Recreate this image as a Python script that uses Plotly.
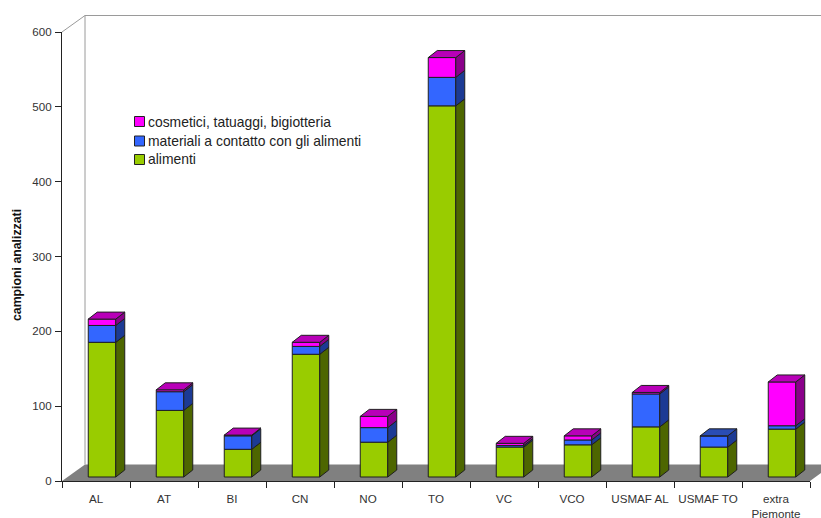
import plotly.graph_objects as go

categories = ["AL", "AT", "BI", "CN", "NO", "TO", "VC", "VCO", "USMAF AL", "USMAF TO", "extra<br>Piemonte"]
alimenti = [180, 89, 37, 164, 46.5, 496, 40, 43, 67, 40, 64]
materiali = [22.5, 25, 18, 10.5, 19.5, 38, 2, 6.5, 44, 15, 4.5]
cosmetici = [8.5, 2.5, 1, 5.5, 15, 26.5, 3, 5.5, 2, 0, 58.5]
y_ticks = [0, 100, 200, 300, 400, 500, 600]

series = [
    ("alimenti", alimenti, "#99cc00", "#4d6600", "#7a9e00"),
    ("materiali a contatto con gli alimenti", materiali, "#3366ff", "#1c3a94", "#2a4db5"),
    ("cosmetici, tatuaggi, bigiotteria", cosmetici, "#ff00ff", "#8a008a", "#b800b8"),
]

# Page and plot-area geometry in pixels
WIDTH, HEIGHT = 821, 518
LEFT, RIGHT, TOP, BOTTOM = 62, 810, 32, 481
X_MAX, Y_MAX = len(categories), 600
px_x = (RIGHT - LEFT) / X_MAX
px_y = (BOTTOM - TOP) / Y_MAX

# Pseudo-3D extrusion, expressed in data units
WALL_DX, WALL_DY = 23 / px_x, 16.5 / px_y
BAR_DX, BAR_DY = 9 / px_x, 7 / px_y
BASE_X, BASE_Y = 6 / px_x, 4 / px_y
BAR_W = 27.5 / px_x
EDGE = "#1f1f1f"


def px(x_pixel, y_pixel):
    return (x_pixel - LEFT) / (RIGHT - LEFT), (BOTTOM - y_pixel) / (BOTTOM - TOP)


fig = go.Figure()
centers = [i + 0.5 + BASE_X for i in range(len(categories))]
left_edges = [c - BAR_W / 2 for c in centers]
right_edges = [c + BAR_W / 2 for c in centers]

# Front faces, stacked on top of the floor offset
stack = [BASE_Y] * len(categories)
tops = []
for name, values, face, side, roof in series:
    fig.add_trace(go.Bar(
        x=centers, y=values, base=list(stack), width=BAR_W, name=name,
        marker=dict(color=face, line=dict(color=EDGE, width=1)),
        showlegend=False, hoverinfo="skip",
    ))
    side_x, side_y = [], []
    for i, v in enumerate(values):
        if v > 0:
            r = right_edges[i]
            side_x += [r, r + BAR_DX, r + BAR_DX, r, r, None]
            side_y += [stack[i], stack[i] + BAR_DY, stack[i] + v + BAR_DY, stack[i] + v, stack[i], None]
    fig.add_trace(go.Scatter(
        x=side_x, y=side_y, mode="lines", fill="toself", fillcolor=side,
        line=dict(color=EDGE, width=1), showlegend=False, hoverinfo="skip", cliponaxis=False,
    ))
    stack = [s + v for s, v in zip(stack, values)]
    tops.append(list(stack))

# Roof of each column takes the colour of its highest non-empty segment
for k, (name, values, face, side, roof) in enumerate(series):
    roof_x, roof_y = [], []
    for i in range(len(categories)):
        highest = max(j for j in range(len(series)) if series[j][1][i] > 0)
        if highest == k:
            l, r, t = left_edges[i], right_edges[i], tops[k][i]
            roof_x += [l, r, r + BAR_DX, l + BAR_DX, l, None]
            roof_y += [t, t, t + BAR_DY, t + BAR_DY, t, None]
    fig.add_trace(go.Scatter(
        x=roof_x, y=roof_y, mode="lines", fill="toself", fillcolor=roof,
        line=dict(color=EDGE, width=1), showlegend=False, hoverinfo="skip", cliponaxis=False,
    ))

# Floor and back wall of the chart box
shapes = [
    dict(type="path", xref="paper", yref="paper", layer="below",
         path=f"M 0 0 L 1 0 L {(X_MAX + WALL_DX) / X_MAX} {WALL_DY / Y_MAX} "
              f"L {WALL_DX / X_MAX} {WALL_DY / Y_MAX} Z",
         fillcolor="#808080", line=dict(width=0)),
    dict(type="line", xref="paper", yref="paper", layer="below",
         x0=0, y0=1, x1=WALL_DX / X_MAX, y1=1 + WALL_DY / Y_MAX, line=dict(color="#9a9a9a", width=1)),
    dict(type="line", xref="paper", yref="paper", layer="below",
         x0=WALL_DX / X_MAX, y0=WALL_DY / Y_MAX, x1=WALL_DX / X_MAX, y1=1 + WALL_DY / Y_MAX,
         line=dict(color="#9a9a9a", width=1)),
    dict(type="line", xref="paper", yref="paper", layer="below",
         x0=WALL_DX / X_MAX, y0=1 + WALL_DY / Y_MAX, x1=(X_MAX + WALL_DX) / X_MAX, y1=1 + WALL_DY / Y_MAX,
         line=dict(color="#9a9a9a", width=1)),
]

# Hand-placed key: small swatches with labels, top entry first
annotations = []
key_rows = [(series[2], 121.5), (series[1], 141), (series[0], 159.5)]
for (name, values, face, side, roof), row_y in key_rows:
    x0, y0 = px(134.5, row_y + 5)
    x1, y1 = px(144.5, row_y - 5)
    shapes.append(dict(type="rect", xref="paper", yref="paper", x0=x0, y0=y0, x1=x1, y1=y1,
                       fillcolor=face, line=dict(color="#222222", width=1)))
    tx, ty = px(146, row_y)
    annotations.append(dict(xref="paper", yref="paper", x=tx, y=ty, text=name, showarrow=False,
                            xanchor="left", yanchor="middle",
                            font=dict(family="Liberation Sans", size=13.9, color="#222222")))

# Vertical axis title
tx, ty = px(17, 265)
annotations.append(dict(xref="paper", yref="paper", x=tx, y=ty, text="<b>campioni analizzati</b>",
                        showarrow=False, textangle=-90, xanchor="center", yanchor="middle",
                        font=dict(family="Liberation Sans", size=12.3, color="#111111")))

tick_font = dict(family="Liberation Sans", size=11.6, color="#333333")
fig.update_layout(
    width=WIDTH, height=HEIGHT, autosize=False, barmode="overlay",
    margin=dict(l=LEFT, r=WIDTH - RIGHT, t=TOP, b=HEIGHT - BOTTOM, pad=0, autoexpand=False),
    paper_bgcolor="white", plot_bgcolor="white", showlegend=False,
    shapes=shapes, annotations=annotations,
    xaxis=dict(
        range=[0, X_MAX], tickmode="array", automargin=False,
        tickvals=[i + 0.5 for i in range(len(categories))], ticktext=categories,
        ticks="", showgrid=False, zeroline=False, showline=True, linecolor="#222222", linewidth=1,
        minor=dict(tickmode="array", tickvals=list(range(X_MAX + 1)), ticks="outside",
                   ticklen=6, tickcolor="#222222", tickwidth=1, showgrid=False),
        tickfont=tick_font, ticklabelstandoff=7, tickangle=0,
    ),
    yaxis=dict(
        range=[0, Y_MAX], tickmode="array", tickvals=y_ticks, ticks="outside", ticklen=6,
        automargin=False, tickcolor="#222222", showgrid=False, zeroline=False, showline=True,
        linecolor="#222222", linewidth=1, tickfont=tick_font, ticklabelstandoff=1,
    ),
)

fig.write_html("out.html", config=dict(displayModeBar=False))
